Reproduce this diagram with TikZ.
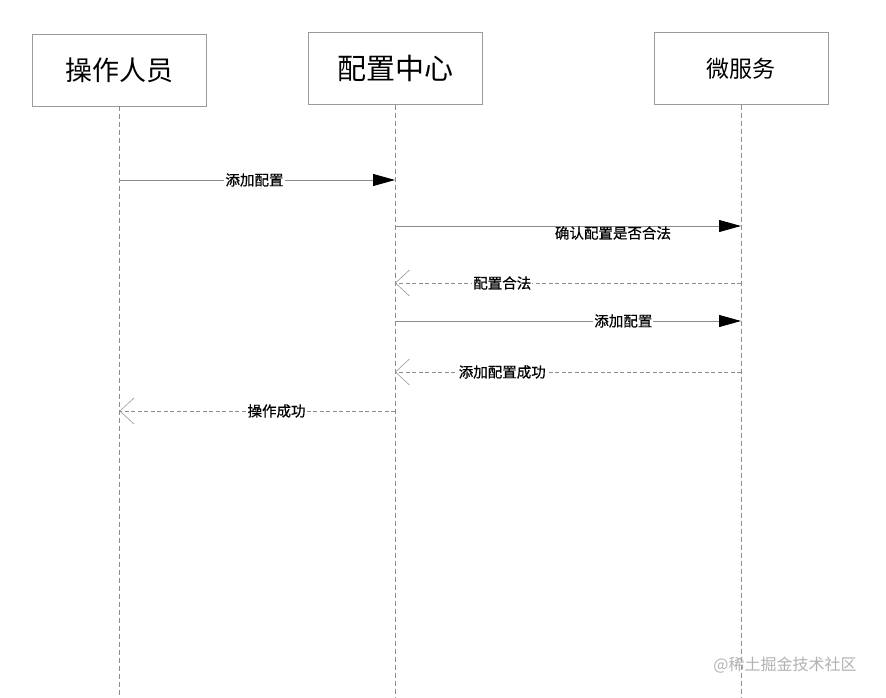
\documentclass[tikz,border=0pt]{standalone}
\usepackage{fontspec}
\newfontfamily\cjk{Noto Sans CJK SC}
\newfontfamily\cjkmsg[FakeBold=0.6]{Noto Sans CJK SC}
\usetikzlibrary{arrows.meta,positioning}
\definecolor{linegray}{HTML}{8C8C8C}
\definecolor{boxgray}{HTML}{9A9A9A}
\tikzset{
  actor/.style={shape=rectangle,draw=boxgray,minimum width=174pt,minimum height=72pt,font=\cjk\fontsize{27}{27}\selectfont},
  lifeline/.style={draw=linegray,dash pattern=on 5pt off 3pt,line width=0.6pt},
  call/.style={draw=linegray,line width=0.9pt,-{Triangle[length=22pt,width=12pt,fill=black,color=black]}},
  reply/.style={draw=linegray,line width=0.8pt,dash pattern=on 4pt off 2.5pt,-{Straight Barb[length=14pt,width=26pt,line width=0.6pt,color=boxgray]}},
  msg/.style={fill=white,inner sep=1pt,font=\cjkmsg\fontsize{14.5}{14.5}\selectfont}
}
\begin{document}
\begin{tikzpicture}[x=1pt,y=-1pt]
        \useasboundingbox[fill=white] (0,0) rectangle (886,698);
        \node[actor] (op)  at (119,70)   {操作人员};
        \node[actor,font=\cjk\fontsize{29}{29}\selectfont] (cfg) at (395,68.5) {配置中心};
        \node[actor,font=\cjk\fontsize{23}{23}\selectfont] (svc) at (741,68.5) {微服务};

        \coordinate (opend)  at (119.5,698);
        \coordinate (cfgend) at (395,698);
        \coordinate (svcend) at (741,698);
        \path (op.south -| opend) edge [lifeline] (opend);
        \path (cfg) edge [lifeline] (cfgend);
        \path (svc) edge [lifeline] (svcend);

        \coordinate (op1)  at (119.5,180);
        \coordinate (cfg1) at (395,180);
        \coordinate (cfg2) at (395,226);
        \coordinate (svc2) at (741,226);
        \coordinate (cfg3) at (395,283);
        \coordinate (svc3) at (741,283);
        \coordinate (cfg4) at (395,321);
        \coordinate (svc4) at (741,321);
        \coordinate (cfg5) at (395,372);
        \coordinate (svc5) at (741,372);
        \coordinate (op6)  at (119.5,411);
        \coordinate (cfg6) at (395,411);

        \path (op1)  edge [call]  node[msg,pos=0.49] {添加配置} (cfg1);
        \path (cfg2) edge [call]  node[msg,pos=0.63,yshift=-7pt,fill=none] {确认配置是否合法} (svc2);
        \path (svc3) edge [reply] node[msg,pos=0.69] {配置合法} (cfg3);
        \path (cfg4) edge [call]  node[msg,pos=0.66] {添加配置} (svc4);
        \path (svc5) edge [reply] node[msg,pos=0.69] {添加配置成功} (cfg5);
        \path (cfg6) edge [reply] node[msg,pos=0.43] {操作成功} (op6);

        \node[font=\cjk\fontsize{16}{16}\selectfont,text=black!30] (mark) at (785,665) {@稀土掘金技术社区};
    \end{tikzpicture}
\end{document}
